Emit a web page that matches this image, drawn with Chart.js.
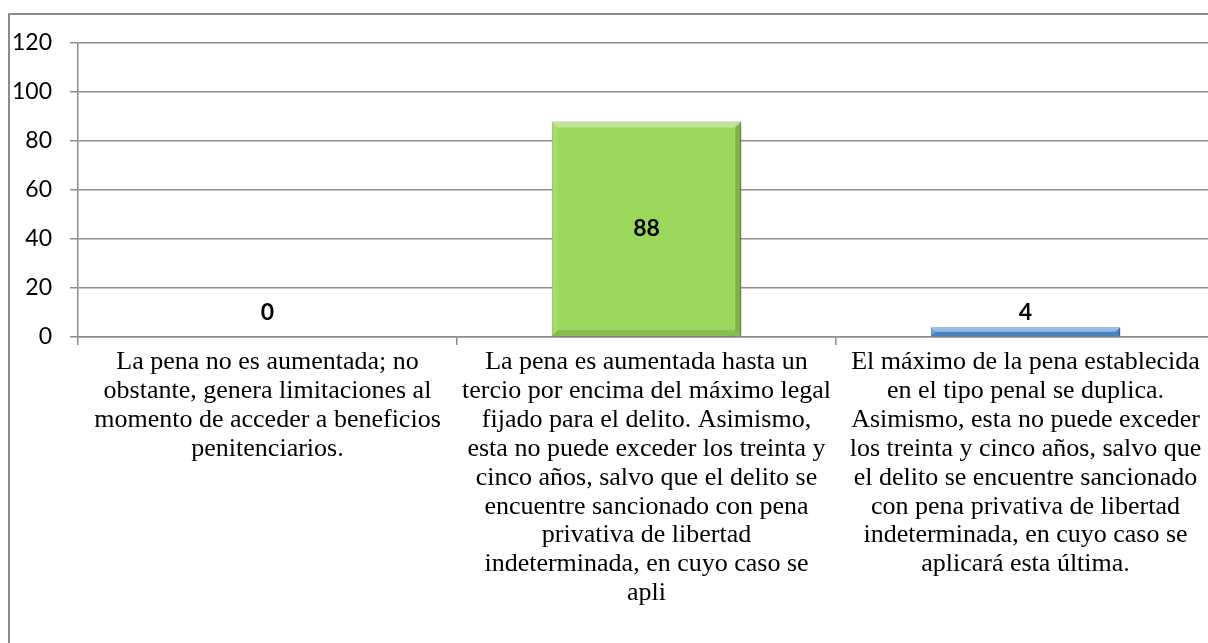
<!DOCTYPE html>
<html>
<head>
<meta charset="utf-8">
<script src="https://cdn.jsdelivr.net/npm/chart.js@4.4.1/dist/chart.umd.min.js"></script>
<style>
  html, body { margin: 0; padding: 0; background: #ffffff; overflow: hidden; width: 1208px; height: 643px; }
  #frame { position: absolute; left: 8px; top: 13px; width: 1400px; height: 800px; border-left: 2px solid #8a8a8a; border-top: 2px solid #8a8a8a; }
  #wrap { position: absolute; left: 0; top: 0; width: 1216px; height: 643px; }
</style>
</head>
<body>
<div id="frame"></div>
<div id="wrap"><canvas id="c" width="1216" height="643"></canvas></div>
<script>
const categories = [
  ["La pena no es aumentada; no", "obstante, genera limitaciones al", "momento de acceder a beneficios", "penitenciarios."],
  ["La pena es aumentada hasta un", "tercio por encima del máximo legal", "fijado para el delito. Asimismo,", "esta no puede exceder los treinta y", "cinco años, salvo que el delito se", "encuentre sancionado con pena", "privativa de libertad", "indeterminada, en cuyo caso se", "apli"],
  ["El máximo de la pena establecida", "en el tipo penal se duplica.", "Asimismo, esta no puede exceder", "los treinta y cinco años, salvo que", "el delito se encuentre sancionado", "con pena privativa de libertad", "indeterminada, en cuyo caso se", "aplicará esta última."]
];
const values = [0, 88, 4];
const barColors = ["#9BD75B", "#9BD75B", "#5694DB"];
const barBorders = ["#77AB3C", "#77AB3C", "#3A70B0"];
const yMin = 0, yMax = 120, yStep = 20;

const barStyle = {
  id: 'barStyle',
  beforeDatasetsDraw(chart) {
    const ctx = chart.ctx;
    ctx.save();
    ctx.shadowColor = 'rgba(0,0,0,0.35)';
    ctx.shadowBlur = 5;
    ctx.shadowOffsetX = 2;
    ctx.shadowOffsetY = 2;
  },
  afterDatasetsDraw(chart) {
    const ctx = chart.ctx;
    ctx.restore();
    const meta = chart.getDatasetMeta(0);
    const yScale = chart.scales.y;
    meta.data.forEach((bar, i) => {
      const L = bar.x - bar.width / 2, R = bar.x + bar.width / 2;
      const T = bar.y, B = bar.base;
      const h = B - T;
      if (h > 1) {
        const b = Math.min(6, h / 2);
        const poly = (pts, fill) => {
          ctx.beginPath();
          ctx.moveTo(pts[0][0], pts[0][1]);
          for (let k = 1; k < pts.length; k++) ctx.lineTo(pts[k][0], pts[k][1]);
          ctx.closePath();
          ctx.fillStyle = fill;
          ctx.fill();
        };
        poly([[L, T], [R, T], [R - b, T + b], [L + b, T + b]], 'rgba(255,255,255,0.35)');
        poly([[L, T], [L + b, T + b], [L + b, B - b], [L, B]], 'rgba(255,255,255,0.12)');
        poly([[R, T], [R - b, T + b], [R - b, B - b], [R, B]], 'rgba(0,0,0,0.18)');
        poly([[L, B], [R, B], [R - b, B - b], [L + b, B - b]], 'rgba(0,0,0,0.12)');
      }
      ctx.save();
      ctx.font = 'bold 23px Lato, "Liberation Sans", sans-serif';
      ctx.fillStyle = '#000000';
      ctx.textAlign = 'center';
      ctx.textBaseline = 'middle';
      let ly;
      if (h > 40) ly = (T + B) / 2;
      else ly = Math.min(T - 14, yScale.getPixelForValue(10));
      ctx.fillText(String(values[i]), bar.x, ly);
      ctx.restore();
    });
  }
};

new Chart(document.getElementById('c'), {
  type: 'bar',
  data: {
    labels: categories,
    datasets: [{
      data: values,
      backgroundColor: barColors,
      borderColor: barBorders,
      borderWidth: 1,
      categoryPercentage: 1.0,
      barPercentage: 0.5
    }]
  },
  options: {
    responsive: false,
    animation: false,
    devicePixelRatio: 1,
    layout: { padding: { top: 43, left: 0, right: 1, bottom: 0 } },
    plugins: { legend: { display: false }, tooltip: { enabled: false } },
    scales: {
      x: {
        offset: true,
        grid: { display: true, offset: true, drawOnChartArea: false, drawTicks: true, tickLength: 8, color: '#8d8d8d', lineWidth: 1.5 },
        border: { display: true, color: '#8d8d8d', width: 1.5 },
        ticks: {
          color: '#000000',
          font: { family: '"Liberation Serif", "Times New Roman", serif', size: 26, lineHeight: 1.11 },
          padding: 3,
          maxRotation: 0,
          autoSkip: false
        },
        afterFit(scale) { scale.height = 306; }
      },
      y: {
        min: yMin, max: yMax,
        ticks: {
          stepSize: yStep,
          color: '#000000',
          font: { family: 'Lato, "Liberation Sans", sans-serif', size: 23 },
          padding: 18
        },
        grid: { color: '#8d8d8d', lineWidth: 1.5, tickLength: 8 },
        border: { display: true, color: '#8d8d8d', width: 1.5 },
        afterFit(scale) { scale.width = 78; }
      }
    }
  },
  plugins: [barStyle]
});
</script>
</body>
</html>
